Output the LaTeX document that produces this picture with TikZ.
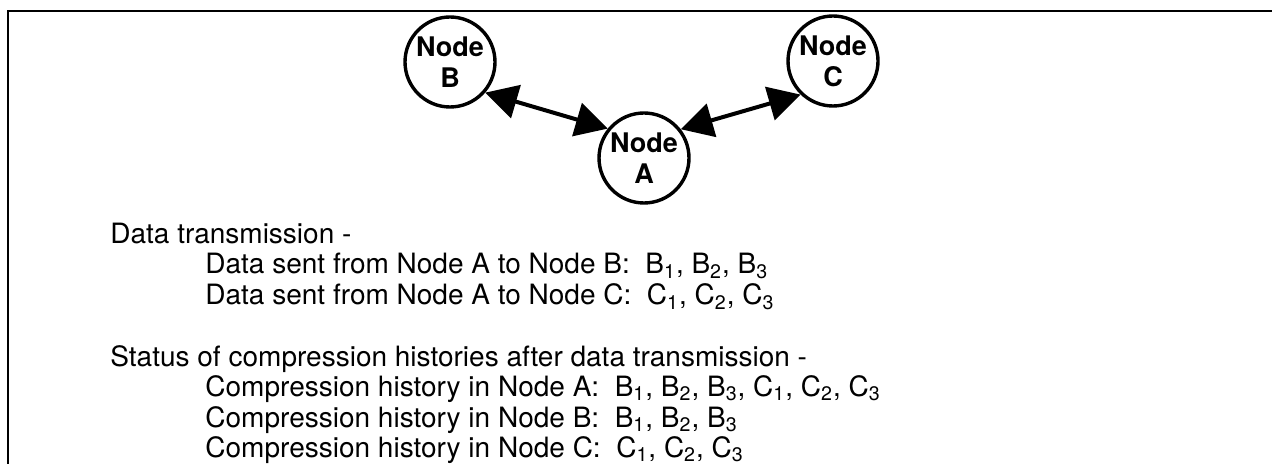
\documentclass[tikz,border=0pt]{standalone}
\usepackage{fontspec}
\setmainfont{TeX Gyre Heros}
\usepackage{tikz}
\usetikzlibrary{shapes, arrows.meta, positioning, calc}
\tikzstyle{station} = [circle, draw, line width=1.7pt, minimum size=45pt, inner sep=0pt, align=center, font=\fontsize{13.5}{15.5}\selectfont\bfseries]
\tikzstyle{arrow} = [draw, line width=2pt, {Triangle[length=16pt,width=17pt]}-{Triangle[length=16pt,width=17pt]}]
\tikzstyle{txt} = [anchor=base west, inner sep=0pt, font=\fontsize{14}{17}\selectfont]

\begin{document}
\begin{tikzpicture}[x=0.5pt, y=-0.5pt]
    \useasboundingbox (0,0) rectangle (1272,464);
    % frame
    \draw [line width=1.2pt] (8,464) -- (8,11) -- (1272,11);

    \node (nodeB) [station] at (450,62) {Node\\B};
    \node (nodeA) [station] at (644,158) {Node\\A};
    \node (nodeC) [station] at (833,61) {Node\\C};

    \draw [arrow] (nodeB.-41) -- (nodeA.141);
    \draw [arrow] (nodeA.38) -- (nodeC.-134);

    \node (txhead) [txt] at (110,244) {Data transmission -};
    \node (txab) [txt] at (205,274) {Data sent from Node A to Node B:\ \ B\textsubscript{1}, B\textsubscript{2}, B\textsubscript{3}};
    \node (txac) [txt] at (205,305) {Data sent from Node A to Node C:\ \ C\textsubscript{1}, C\textsubscript{2}, C\textsubscript{3}};

    \node (sthead) [txt] at (110,366) {Status of compression histories after data transmission -};
    \node (sta) [txt] at (205,396) {Compression history in Node A:\ \ B\textsubscript{1}, B\textsubscript{2}, B\textsubscript{3}, C\textsubscript{1}, C\textsubscript{2}, C\textsubscript{3}};
    \node (stb) [txt] at (205,427) {Compression history in Node B:\ \ B\textsubscript{1}, B\textsubscript{2}, B\textsubscript{3}};
    \node (stc) [txt] at (205,457) {Compression history in Node C:\ \ C\textsubscript{1}, C\textsubscript{2}, C\textsubscript{3}};
\end{tikzpicture}
\end{document}
